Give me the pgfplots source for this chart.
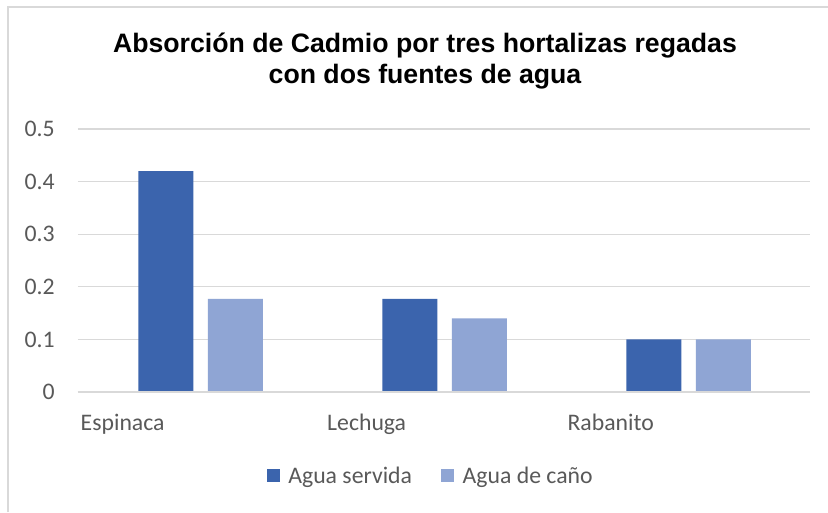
\documentclass[border=0pt]{standalone}
\usepackage{pgfplots}
\pgfplotsset{compat=1.18}
\usepackage{fontspec}
\setmainfont{Carlito}
\newfontfamily\titlefont{Liberation Sans}
\definecolor{darkbar}{HTML}{3B64AD}
\definecolor{lightbar}{HTML}{8FA5D4}
\definecolor{txt}{HTML}{595959}
\definecolor{gridc}{HTML}{D9D9D9}
\definecolor{framec}{HTML}{D9D9D9}
\begin{document}
\begin{tikzpicture}
\path[use as bounding box] (0pt,0pt) rectangle (621pt,-384pt);
\fill[white] (0pt,0pt) rectangle (621pt,-384pt);
\draw[framec,line width=1.5pt] (6pt,-384pt) -- (6pt,-5.25pt) -- (621pt,-5.25pt);
\node[anchor=base,font=\titlefont\bfseries\fontsize{20}{24}\selectfont,text=black] at (318.75pt,-39pt) {Absorción de Cadmio por tres hortalizas regadas};
\node[anchor=base,font=\titlefont\bfseries\fontsize{20}{24}\selectfont,text=black] at (318.75pt,-62.25pt) {con dos fuentes de agua};
\begin{axis}[
  at={(58.5pt,-294pt)}, anchor=south west,
  scale only axis, width=549pt, height=197.25pt,
  ybar, bar width=0.225,
  xmin=-0.5, xmax=2.5, ymin=0, ymax=0.5,
  xtick={0,1,2}, xticklabels={Espinaca,Lechuga,Rabanito},
  ytick={0,0.1,0.2,0.3,0.4,0.5},
  yticklabels={0,0.1,0.2,0.3,0.4,0.5},
  major tick length=0pt,
  axis line style={draw=none},
  ymajorgrids, grid style={gridc,line width=0.9pt},
  tick label style={font=\fontsize{17.8}{20}\selectfont,text=txt},
  yticklabel style={anchor=east,inner sep=0pt,xshift=-17.25pt},
  xticklabel style={anchor=base,inner sep=0pt,yshift=-28.5pt,xshift=-58pt},
  legend columns=2,
  legend style={draw=none,fill=none,at={(0.4825,-0.319)},anchor=center,
    font=\fontsize{17.8}{20}\selectfont,text=txt,
    /tikz/every even column/.append style={column sep=20pt}},
  legend image code/.code={\fill[#1,draw=none] (0pt,-4.9pt) rectangle (9.75pt,4.9pt);
    \path (14pt,0pt);},
]
\addplot[fill=darkbar,draw=none,bar shift=-0.14] coordinates {(0,0.42) (1,0.177) (2,0.1)};
\addlegendentry{Agua servida}
\addplot[fill=lightbar,draw=none,bar shift=0.145] coordinates {(0,0.177) (1,0.14) (2,0.1)};
\addlegendentry{Agua de caño}
\draw[gridc,line width=0.9pt] (axis cs:-0.5,0) -- (axis cs:2.5,0);
\end{axis}
\end{tikzpicture}
\end{document}
